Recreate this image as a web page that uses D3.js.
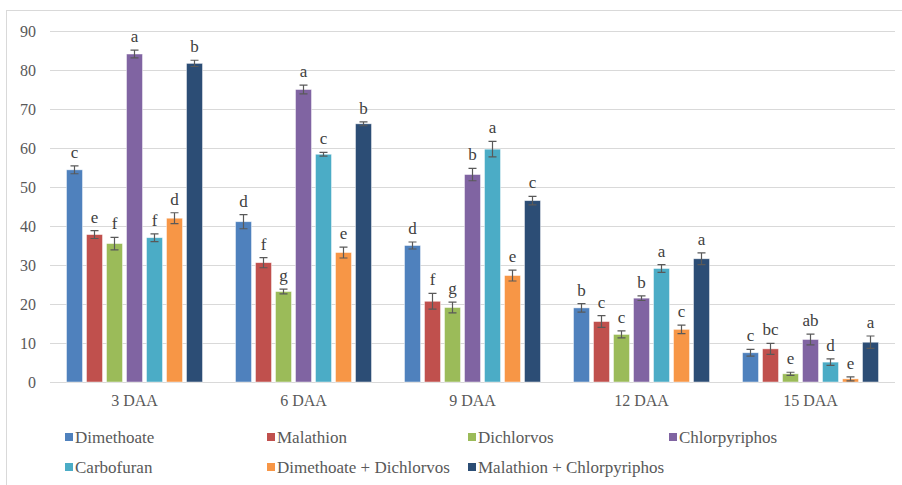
<!DOCTYPE html>
<html>
<head>
<meta charset="utf-8">
<script src="https://cdn.jsdelivr.net/npm/d3@7"></script>
<style>
  html, body { margin: 0; padding: 0; background: #ffffff; }
  svg { display: block; }
</style>
</head>
<body>
<svg id="chart" width="902" height="485"></svg>
<script>
// Sampling days after application
const categories = ["3 DAA", "6 DAA", "9 DAA", "12 DAA", "15 DAA"];

const seriesNames = [
  "Dimethoate", "Malathion", "Dichlorvos", "Chlorpyriphos",
  "Carbofuran", "Dimethoate + Dichlorvos", "Malathion + Chlorpyriphos"
];

const seriesColors = ["#4f81bd", "#c0504d", "#9bbb59", "#8064a2", "#4bacc6", "#f79646", "#2c4d75"];

// Means per treatment, one value per sampling day
const dimethoate    = [54.4, 41.1, 35.0, 19.0, 7.5];
const malathion     = [37.8, 30.6, 20.7, 15.5, 8.5];
const dichlorvos    = [35.5, 23.2, 19.1, 12.2, 2.1];
const chlorpyriphos = [84.1, 75.0, 53.2, 21.5, 10.9];
const carbofuran    = [37.0, 58.4, 59.7, 29.1, 5.1];
const dimDichlorvos = [42.0, 33.2, 27.3, 13.5, 0.8];
const malChlorpyr   = [81.7, 66.2, 46.5, 31.6, 10.2];

// Standard errors
const errDimethoate    = [1.0, 1.8, 0.9, 1.1, 0.85];
const errMalathion     = [1.0, 1.3, 2.0, 1.5, 1.4];
const errDichlorvos    = [1.6, 0.6, 1.4, 0.9, 0.4];
const errChlorpyriphos = [1.0, 1.1, 1.6, 0.6, 1.4];
const errCarbofuran    = [1.0, 0.5, 2.0, 1.0, 0.85];
const errDimDichlorvos = [1.4, 1.4, 1.4, 1.1, 0.5];
const errMalChlorpyr   = [0.8, 0.5, 1.1, 1.5, 1.6];

// Significance letters
const letDimethoate    = ["c", "d", "d", "b", "c"];
const letMalathion     = ["e", "f", "f", "c", "bc"];
const letDichlorvos    = ["f", "g", "g", "c", "e"];
const letChlorpyriphos = ["a", "a", "b", "b", "ab"];
const letCarbofuran    = ["f", "c", "a", "a", "d"];
const letDimDichlorvos = ["d", "e", "e", "c", "e"];
const letMalChlorpyr   = ["b", "b", "c", "a", "a"];

const yTicks = [0, 10, 20, 30, 40, 50, 60, 70, 80, 90];

const values  = [dimethoate, malathion, dichlorvos, chlorpyriphos, carbofuran, dimDichlorvos, malChlorpyr];
const errors  = [errDimethoate, errMalathion, errDichlorvos, errChlorpyriphos, errCarbofuran, errDimDichlorvos, errMalChlorpyr];
const letters = [letDimethoate, letMalathion, letDichlorvos, letChlorpyriphos, letCarbofuran, letDimDichlorvos, letMalChlorpyr];

const rows = [];
categories.forEach((c, ci) => {
  seriesNames.forEach((s, si) => {
    rows.push({ cat: c, series: s, si, value: values[si][ci], err: errors[si][ci], letter: letters[si][ci] });
  });
});

const FONT = "Liberation Serif, Times New Roman, DejaVu Serif, serif";

const svg = d3.select("#chart");

// Outer frame
svg.append("rect")
  .attr("x", 6.5).attr("y", 10.5)
  .attr("width", 900).attr("height", 480)
  .attr("fill", "none").attr("stroke", "#d9d9d9").attr("stroke-width", 1);

const plot = { left: 50, right: 895, top: 31, bottom: 382 };

const x0 = d3.scaleBand().domain(categories).range([plot.left, plot.right]).padding(0);
const groupWidth = 136;
const x1 = d3.scaleBand().domain(seriesNames).range([0, groupWidth]).paddingInner(0.2).paddingOuter(0);
const y = d3.scaleLinear().domain([0, 90]).range([plot.bottom, plot.top]);
const color = d3.scaleOrdinal().domain(seriesNames).range(seriesColors);

// Horizontal gridlines
svg.append("g")
  .selectAll("line")
  .data(yTicks)
  .join("line")
  .attr("x1", plot.left).attr("x2", plot.right)
  .attr("y1", d => Math.round(y(d)) + 0.5).attr("y2", d => Math.round(y(d)) + 0.5)
  .attr("stroke", "#d9d9d9").attr("stroke-width", 1);

// Y axis labels
const yAxis = svg.append("g")
  .attr("transform", `translate(${plot.left - 14},0)`)
  .call(d3.axisLeft(y).tickValues(yTicks).tickSize(0).tickPadding(0).tickFormat(d3.format("d")));
yAxis.select(".domain").remove();
yAxis.attr("font-family", FONT).attr("font-size", 16);
yAxis.selectAll("text").attr("fill", "#595959");

// X axis labels
const xAxis = svg.append("g")
  .attr("transform", `translate(0,${plot.bottom})`)
  .call(d3.axisBottom(x0).tickSize(0).tickPadding(13));
xAxis.select(".domain").remove();
xAxis.attr("font-family", FONT).attr("font-size", 16);
xAxis.selectAll("text").attr("fill", "#595959");

const barX = d => x0(d.cat) + (x0.bandwidth() - groupWidth) / 2 + x1(d.series);
const barCenter = d => barX(d) + x1.bandwidth() / 2;

// Bars
svg.append("g")
  .selectAll("rect")
  .data(rows)
  .join("rect")
  .attr("x", barX)
  .attr("y", d => y(d.value))
  .attr("width", x1.bandwidth())
  .attr("height", d => y(0) - y(d.value))
  .attr("fill", d => color(d.series))
  .attr("stroke", "#ffffff").attr("stroke-opacity", 0.6).attr("stroke-width", 0.75);

// Error bars
const eb = svg.append("g").attr("stroke", "#595959").attr("stroke-width", 1.2).attr("fill", "none");
eb.selectAll("path")
  .data(rows)
  .join("path")
  .attr("d", d => {
    const cx = barCenter(d), t = y(d.value + d.err), b = y(Math.max(0, d.value - d.err)), w = 4;
    return `M${cx},${t}V${b}M${cx - w},${t}H${cx + w}M${cx - w},${b}H${cx + w}`;
  });

// Significance letters
svg.append("g")
  .attr("font-family", FONT)
  .selectAll("text")
  .data(rows)
  .join("text")
  .attr("x", barCenter)
  .attr("y", d => y(d.value + d.err) - 8)
  .attr("text-anchor", "middle")
  .attr("font-size", 17)
  .attr("fill", "#404040")
  .text(d => d.letter);

// Legend
const legendCols = [65, 267, 468, 669];
const legendRows = [437, 467];
const legend = svg.append("g")
  .attr("font-family", FONT)
  .selectAll("g")
  .data(seriesNames)
  .join("g")
  .attr("transform", (d, i) => `translate(${legendCols[i % 4]},${legendRows[Math.floor(i / 4)]})`);
legend.append("rect")
  .attr("x", 0).attr("y", -4).attr("width", 8).attr("height", 8)
  .attr("fill", d => color(d));
legend.append("text")
  .attr("x", 10).attr("y", 6)
  .attr("font-size", 17).attr("fill", "#595959")
  .text(d => d);
</script>
</body>
</html>
